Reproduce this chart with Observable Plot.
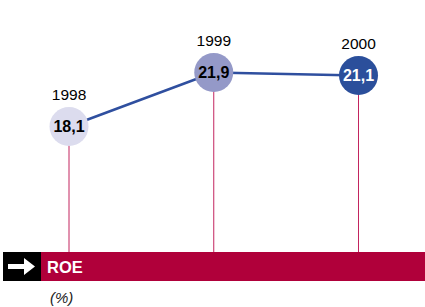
<!DOCTYPE html>
<html>
<head>
<meta charset="utf-8">
<script src="https://cdn.jsdelivr.net/npm/d3@7"></script>
<script src="https://cdn.jsdelivr.net/npm/@observablehq/plot@0.6"></script>
<style>
  html, body { margin: 0; padding: 0; background: #fff; }
  #wrap { position: relative; width: 425px; height: 307px; overflow: hidden; font-family: "Liberation Sans", Arial, sans-serif; }
  #band { position: absolute; left: 41px; top: 252px; width: 384px; height: 29px; background: #b0003a; }
  #box { position: absolute; left: 3px; top: 252px; width: 38px; height: 29px; background: #000; }
  #roe { position: absolute; left: 47px; top: 252px; height: 29px; line-height: 30px; color: #fff; font-weight: bold; font-size: 16.5px; }
  #pct { position: absolute; left: 50px; top: 289px; font-style: italic; font-size: 15px; color: #222; }
  #chart { position: absolute; left: 0; top: 0; }
</style>
</head>
<body>
<div id="wrap">
  <div id="chart"></div>
  <div id="band"></div>
  <div id="box"><svg width="38" height="29" viewBox="0 0 38 29"><path d="M5 12 H21 V6 L32 14.5 L21 23 V17 H5 Z" fill="#fff"/></svg></div>
  <div id="roe">ROE</div>
  <div id="pct">(%)</div>
</div>
<script>
const years = [1998, 1999, 2000];
const roe = [18.1, 21.9, 21.1];
const labels = ["18,1", "21,9", "21,1"];
const fills = ["#dcdcee", "#9499c8", "#2b4f9b"];
const textColors = ["#000", "#000", "#fff"];

const data = years.map((y, i) => ({year: y, roe: roe[i], label: labels[i], fill: fills[i], tc: textColors[i]}));

const chart = Plot.plot({
  width: 425,
  height: 252,
  marginTop: 0, marginBottom: 0, marginLeft: 0, marginRight: 0,
  x: {type: "linear", domain: [1998, 2000], range: [68.5, 358], axis: null},
  y: {type: "linear", domain: [0, 18.1, 21.1, 21.9], range: [252, 126, 75, 72], axis: null},
  marks: [
    Plot.ruleX(data, {x: "year", y1: "roe", y2: 0, stroke: "#c3245f", strokeWidth: 1}),
    Plot.line(data, {x: "year", y: "roe", stroke: "#2f4f9f", strokeWidth: 2.5}),
    Plot.dot(data, {x: "year", y: "roe", r: 19.5, fill: "fill", stroke: null}),
    Plot.text(data, {x: "year", y: "roe", text: "label", fill: "tc", fontWeight: "bold", fontSize: 16, fontFamily: "Liberation Sans, Arial, sans-serif"}),
    Plot.text(data, {x: "year", y: "roe", text: d => String(d.year), dy: -31, fill: "#000", fontSize: 15.5, fontFamily: "Liberation Sans, Arial, sans-serif"})
  ]
});
document.getElementById("chart").appendChild(chart);
</script>
</body>
</html>
